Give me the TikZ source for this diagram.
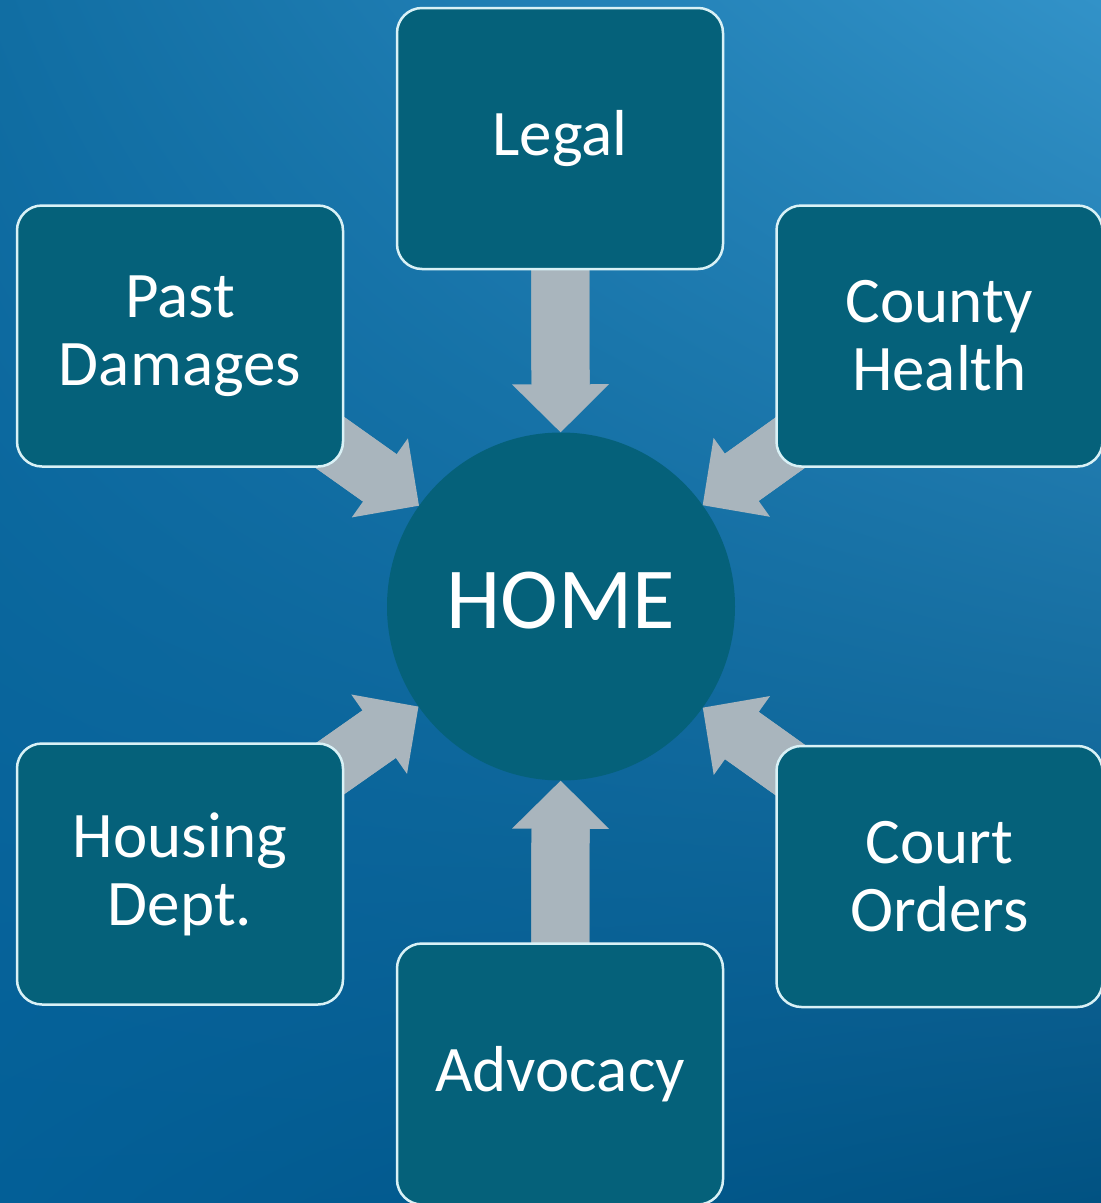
\documentclass[tikz,border=0pt]{standalone}
\usepackage{fontspec}
\setmainfont{Carlito}
\usetikzlibrary{arrows.meta,shadings}
\definecolor{boxfill}{RGB}{5,97,122}
\definecolor{boxline}{RGB}{217,241,246}
\definecolor{feedgray}{RGB}{169,181,189}
\definecolor{bgtopleft}{RGB}{17,110,163}
\definecolor{bgtopright}{RGB}{50,146,200}
\definecolor{bgbotleft}{RGB}{3,95,151}
\definecolor{bgbotright}{RGB}{1,82,130}
\pgfdeclarelayer{back}
\pgfdeclarelayer{mid}
\pgfsetlayers{back,mid,main}
\tikzstyle{source}=[rectangle, rounded corners=25pt, draw=boxline, line width=2.5pt, fill=boxfill, minimum width=326pt, minimum height=261pt, text width=300pt, align=center, text=white, font=\fontsize{65}{68}\selectfont]
\tikzstyle{hub}=[circle, fill=boxfill, minimum size=348pt, inner sep=0pt, text depth=12pt, text=white, font=\fontsize{87}{90}\selectfont]
\tikzstyle{feed}=[feedgray, line width=58pt, -{Triangle[length=48pt, width=97pt, line width=0pt]}]
\tikzstyle{feedshaft}=[feedgray, line width=58pt, shorten >=40pt]

\begin{document}
\begin{tikzpicture}[x=1pt, y=-1pt]
\useasboundingbox (0,0) rectangle (1101,1203);
% Background
\begin{pgfonlayer}{back}
    \shade[upper left=bgtopleft, upper right=bgtopright, lower left=bgbotleft, lower right=bgbotright] (0,0) rectangle (1101,1203);
\end{pgfonlayer}
% Sources
    \node[source] (legal) at (560,138.5) {Legal};
    \node[source] (past) at (180,336) {Past\\Damages};
    \node[source] (county) at (939.5,336) {County\\Health};
    \node[source] (housing) at (180,874) {Housing\\Dept.};
    \node[source] (court) at (939.5,876.5) {Court\\Orders};
    \node[source] (advocacy) at (560,1074) {Advocacy};
% Hub and feeds
\begin{pgfonlayer}{mid}
    \node[hub] (home) at (561,606.5) {HOME};
    \foreach \src in {legal,past,county,housing,court,advocacy} {
        \draw[feed] (\src.center) -- (home);
        \draw[feedshaft] (\src.center) -- (home);
    }
\end{pgfonlayer}
\end{tikzpicture}
\end{document}
